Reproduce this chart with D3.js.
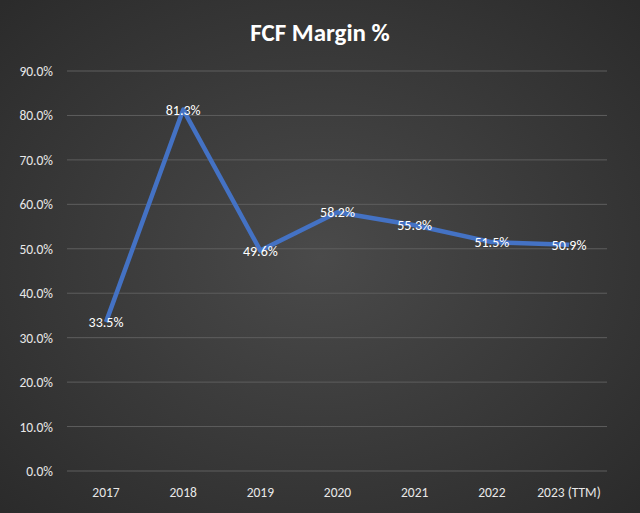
<!DOCTYPE html>
<html><head><meta charset="utf-8">
<script src="https://cdn.jsdelivr.net/npm/d3@7"></script>
<style>body{margin:0;background:#333}</style>
</head><body><div id="chart"></div>
<script>
const years = ["2017","2018","2019","2020","2021","2022","2023 (TTM)"];
const margins = [33.5, 81.3, 49.6, 58.2, 55.3, 51.5, 50.9];
const yTicks = [0,10,20,30,40,50,60,70,80,90];

const W = 640, H = 513;
const svg = d3.select("#chart").append("svg").attr("width", W).attr("height", H)
  .style("font-family", "Calibri, Carlito, 'Liberation Sans', sans-serif");

const grad = svg.append("defs").append("radialGradient").attr("id","bg")
  .attr("cx","50%").attr("cy","50%").attr("r","70%");
grad.append("stop").attr("offset","0%").attr("stop-color","#4a4a4a");
grad.append("stop").attr("offset","100%").attr("stop-color","#2b2b2b");
svg.append("rect").attr("width",W).attr("height",H).attr("fill","url(#bg)");

const x = d3.scalePoint().domain(years).range([106, 569]);
const y = d3.scaleLinear().domain([0, 90]).range([471, 71]);

svg.append("g").selectAll("line").data(yTicks).enter().append("line")
  .attr("x1", 67).attr("x2", 607)
  .attr("y1", d => y(d)).attr("y2", d => y(d))
  .attr("stroke", "#5e5e5e").attr("stroke-width", 1);

svg.append("g").selectAll("text").data(yTicks).enter().append("text")
  .attr("x", 53).attr("y", d => y(d) + 5).attr("text-anchor", "end")
  .attr("fill", "#e8e8e8").attr("font-size", 13.5).text(d => d.toFixed(1) + "%");

svg.append("g").selectAll("text").data(years).enter().append("text")
  .attr("x", d => x(d)).attr("y", 497).attr("text-anchor", "middle")
  .attr("fill", "#e8e8e8").attr("font-size", 13.5).text(d => d);

const line = d3.line().x((d, i) => x(years[i])).y(d => y(d));
svg.append("path").datum(margins).attr("d", line)
  .attr("fill", "none").attr("stroke", "#4472c4").attr("stroke-width", 4.5)
  .attr("stroke-linejoin", "round");

svg.append("g").selectAll("text").data(margins).enter().append("text")
  .attr("x", (d, i) => x(years[i])).attr("y", d => y(d) + 5)
  .attr("text-anchor", "middle").attr("fill", "#ffffff").attr("font-size", 14)
  .text(d => d.toFixed(1) + "%");

svg.append("text").attr("x", W / 2).attr("y", 41).attr("text-anchor", "middle")
  .attr("fill", "#ffffff").attr("font-size", 25).attr("font-weight", "bold")
  .text("FCF Margin %");
</script></body></html>
